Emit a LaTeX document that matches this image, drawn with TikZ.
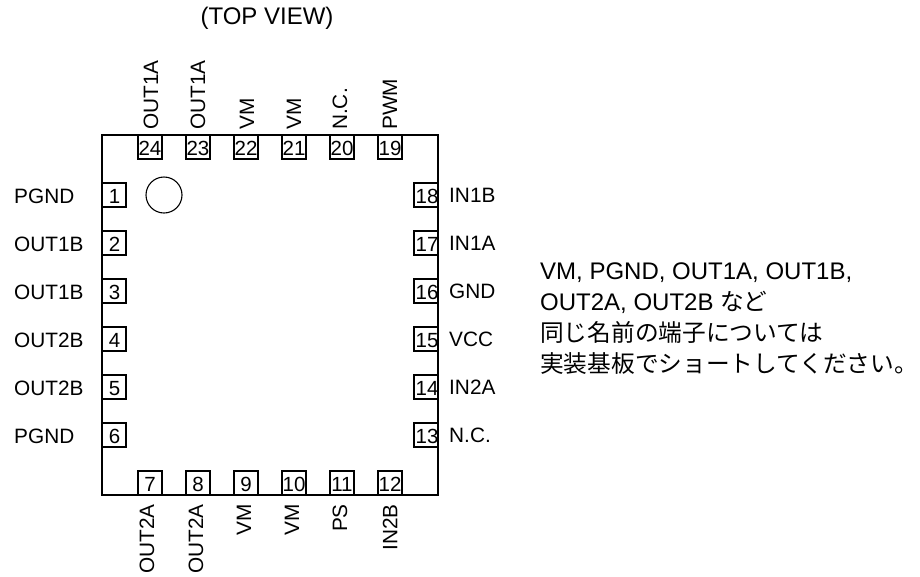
\documentclass[tikz,border=0pt]{standalone}
\usepackage{fontspec}
\setmainfont{Liberation Sans}
\newfontfamily\cjk{Noto Sans CJK JP}
\tikzset{
 pinbox/.style={draw,line width=1.3pt,minimum size=24pt,inner sep=0pt},
 pinnum/.style={inner sep=0pt,font=\fontsize{20.5}{22}\selectfont},
 lab/.style={inner sep=0pt,font=\fontsize{20.8}{24}\selectfont},
 pkg/.style={draw,line width=1.6pt,minimum width=336pt,minimum height=360pt,inner sep=0pt},
}
\begin{document}
\begin{tikzpicture}[x=1pt,y=-1pt]
\useasboundingbox (0,0) rectangle (920,576);
\node[pkg] (ic) at (270,315) {};
\node[draw,circle,line width=1.1pt,minimum size=36pt,inner sep=0pt] (mark) at (164,195) {};
\node[inner sep=0pt,font=\fontsize{24}{28}\selectfont] (title) at (267,18) {(TOP VIEW)};
% left
\foreach \n/\l [count=\i from 0] in {1/PGND,2/OUT1B,3/OUT1B,4/OUT2B,5/OUT2B,6/PGND}{
 \node[pinbox] (p\n) at (114,195+48*\i) {};
 \node[pinnum] (n\n) at (114.5,196.5+48*\i) {\n};
 \node[lab,anchor=west] (l\n) at (14,196+48*\i) {\l};
}
% bottom
\foreach \n/\x/\l [count=\i from 0] in {7/147/OUT2A,8/196/OUT2A,9/244/VM,10/292/VM,11/340/PS,12/390/IN2B}{
 \node[pinbox] (p\n) at (150+48*\i,483) {};
 \node[pinnum] (n\n) at (150+48*\i,484) {\n};
 \node[lab,anchor=east,rotate=90] (l\n) at (\x,504) {\l};
}
% right
\foreach \n/\l [count=\i from 0] in {18/IN1B,17/IN1A,16/GND,15/VCC,14/IN2A,13/N.C.}{
 \node[pinbox] (p\n) at (426,195+48*\i) {};
 \node[pinnum] (n\n) at (427,196.5+48*\i) {\n};
 \node[lab,anchor=west] (l\n) at (449,195+48*\i) {\l};
}
% top
\foreach \n/\x/\l [count=\i from 0] in {24/151/OUT1A,23/198/OUT1A,22/247/VM,21/294/VM,20/340/N.C.,19/390/PWM}{
 \node[pinbox] (p\n) at (150+48*\i,147) {};
 \node[pinnum] (n\n) at (150+48*\i,148) {\n};
 \node[lab,anchor=west,rotate=90] (l\n) at (\x,130) {\l};
}
\node[inner sep=0pt,anchor=north west,align=left,font=\fontsize{24}{31}\selectfont] (note) at (540,263) {VM, PGND, OUT1A, OUT1B,\\OUT2A, OUT2B {\cjk\fontsize{23.7}{31}\selectfont など}\\{\cjk\fontsize{23.7}{31}\selectfont 同じ名前の端子については}\\{\cjk\fontsize{23.7}{31}\selectfont 実装基板でショートしてください。}};
\end{tikzpicture}
\end{document}
